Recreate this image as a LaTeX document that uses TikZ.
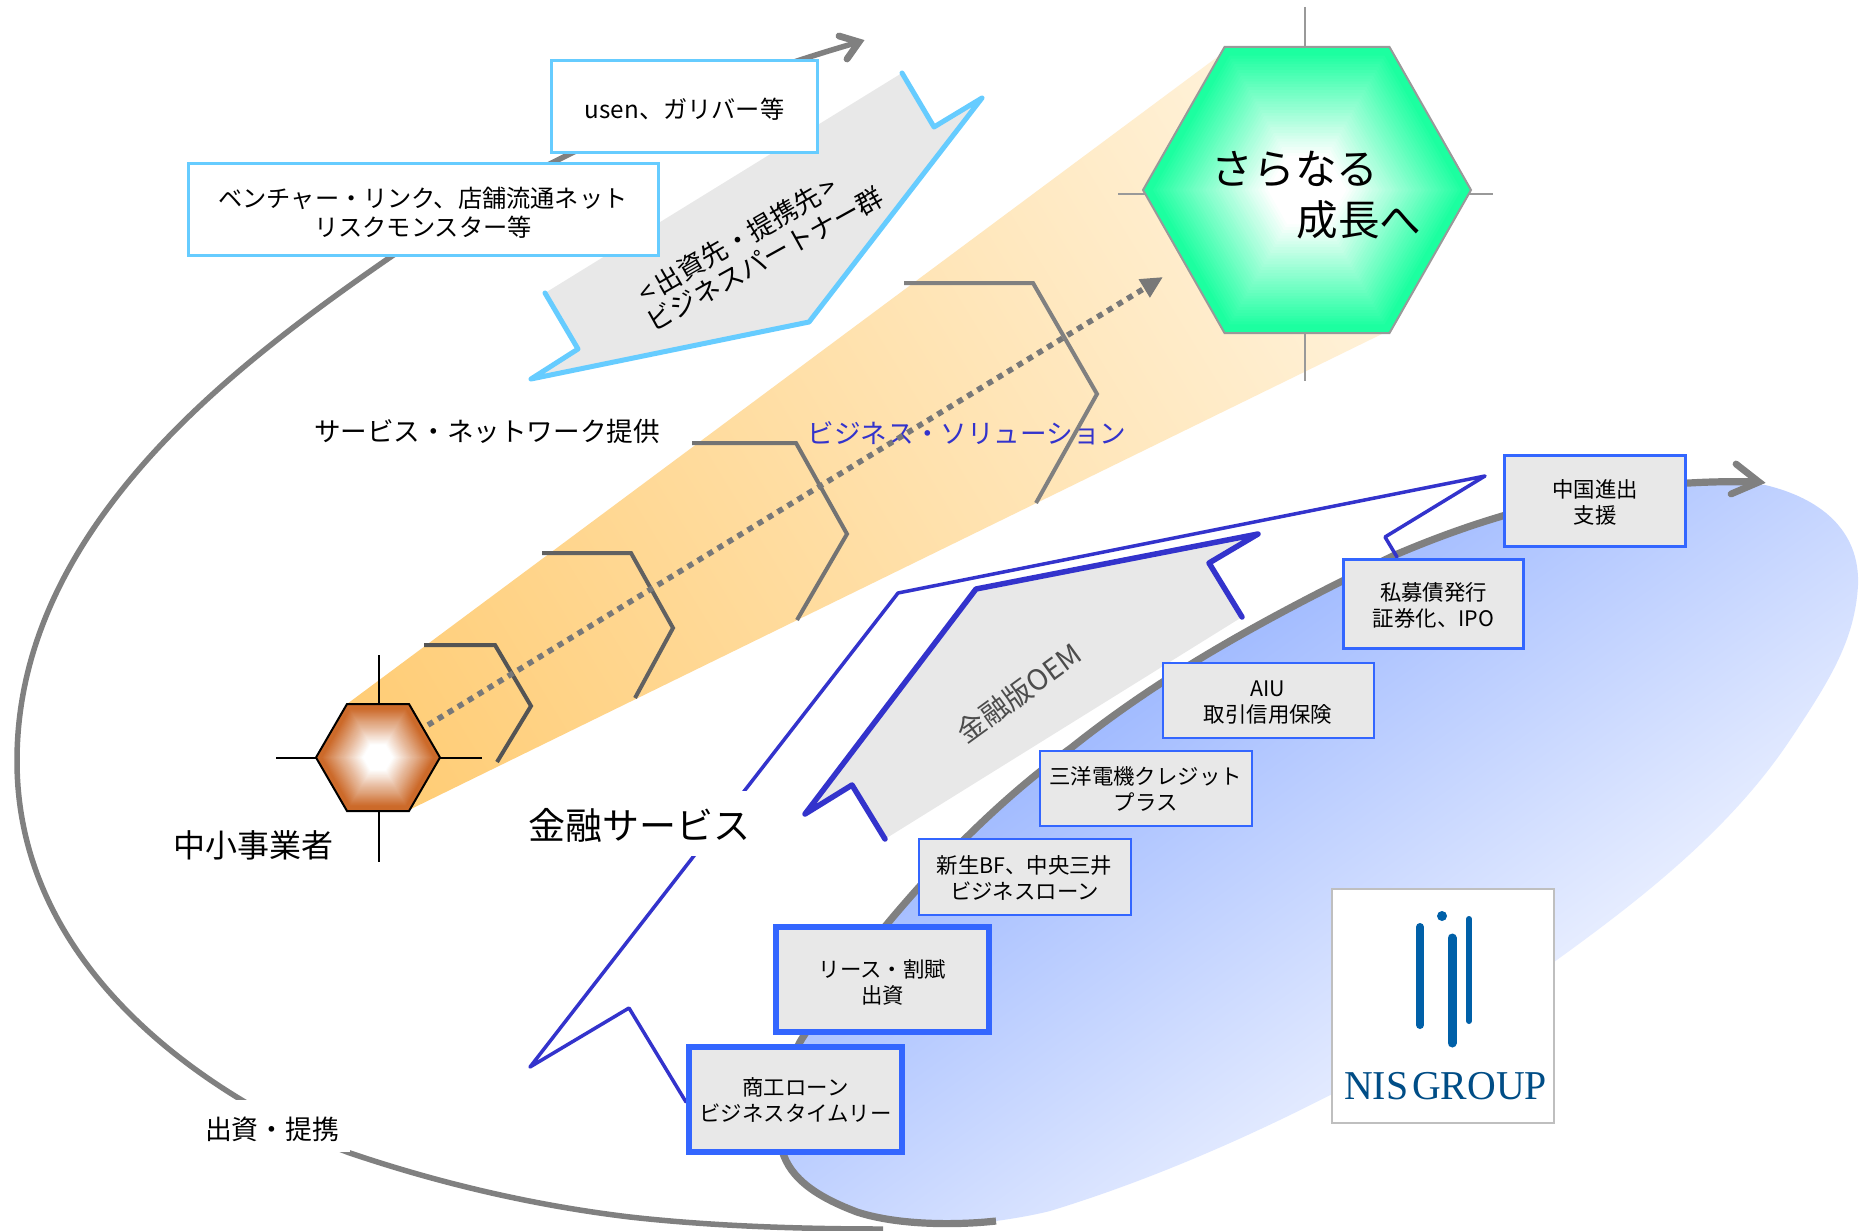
\documentclass[tikz,border=0pt]{standalone}
\usepackage{fontspec}
\setmainfont{Noto Sans CJK JP}
\newfontfamily\logofont{Liberation Serif}
\usetikzlibrary{arrows.meta}
\definecolor{arcgray}{HTML}{808080}
\definecolor{skyline}{HTML}{66CCFF}
\definecolor{indigoline}{HTML}{3333CC}
\definecolor{boxblue}{HTML}{3366FF}
\definecolor{panelgray}{HTML}{E8E8E8}
\definecolor{logoblue}{HTML}{0060A8}
\definecolor{hexgreen}{HTML}{1CFFA0}
\definecolor{hexorange}{HTML}{CC6A2A}
\definecolor{bandstart}{HTML}{FFCC74}
\definecolor{bandend}{HTML}{FFF2DA}
\definecolor{areastart}{HTML}{A0BAFF}
\definecolor{areaend}{HTML}{E8EEFF}
\newcommand{\fs}[2]{\fontsize{#1}{#2}\selectfont}
\newcommand{\lowered}[2][2.2pt]{\raisebox{-#1}[\height][\depth]{\begin{tabular}{@{}c@{}}#2\end{tabular}}}
\newcommand{\hexpath}[3]{(-#1,0) -- (-#2,-#3) -- (#2,-#3) -- (#1,0) -- (#2,#3) -- (-#2,#3) -- cycle}
% nested hexagons: path gradient, #1 cx #2 cy #3 half width #4 half top #5 half height #6 colour #7 core #8 solid
\newcommand{\hexgrad}[8]{%
  \foreach \s in {100,98,...,0}{%
    \pgfmathtruncatemacro{\mixval}{max(0,min(100,(\s-#7)/(#8-#7)*100))}%
    \begin{scope}[shift={(#1,#2)},scale=\s*0.01]
      \fill[#6!\mixval!white] \hexpath{#3}{#4}{#5};
    \end{scope}}}
\tikzset{
  arcline/.style={draw=arcgray,line width=2.75pt,line cap=butt,line join=round},
  headline/.style={draw=arcgray,line width=3.4pt,line cap=round,line join=miter},
  chevron/.style={line width=2pt,line join=miter,line cap=butt},
  lbox/.style={draw=skyline,line width=1.5pt,fill=white,inner sep=0pt,font=\fs{12.1}{14.4}},
  bbox/.style={draw=boxblue,fill=panelgray,inner sep=0pt,font=\fs{10.7}{13}},
  plainlabel/.style={inner sep=0pt,font=\fs{13.3}{16}},
  crossline/.style={line width=1pt},
  pointer/.style={line join=round,line cap=round},
}
\begin{document}
\begin{tikzpicture}[x=0.5pt,y=-0.5pt]
\useasboundingbox (0,0) rectangle (1861,1230);
\fill[white] (0,0) rectangle (1861,1230);

% orange band
\begin{scope}
  \clip (347,704) -- (1220,55) -- (1384,333) -- (411,809) -- cycle;
  \begin{scope}[transform canvas={shift={(842,474)},rotate=31.5}]
    \shade[left color=bandstart,right color=bandend] (-560,-800) rectangle (560,800);
  \end{scope}
\end{scope}

% big arc with arrow
\coordinate (arctip) at (859,42);
\coordinate (arcarm1) at (839,36);
\coordinate (arcarm2) at (847,59);
\draw[arcline] (883,1229) .. controls (800,1229) and (710,1226) .. (630,1217)
  .. controls (530,1205) and (435,1182) .. (347,1152)
  .. controls (238,1110) and (17,985) .. (17,761)
  .. controls (17,670) and (50,590) .. (100,519)
  .. controls (170,420) and (270,340) .. (392,256)
  .. controls (520,170) and (690,90) .. (arctip);
\draw[headline] (arcarm1) -- (arctip) -- (arcarm2);

% blue region
\begin{scope}
  \clip (996,1221) .. controls (960,1225) and (900,1226) .. (857,1212)
   .. controls (820,1198) and (790,1180) .. (782,1150)
   .. controls (775,1115) and (785,1065) .. (803,1037)
   .. controls (850,965) and (950,835) .. (1071,748)
   .. controls (1150,685) and (1240,630) .. (1395,555)
   .. controls (1500,510) and (1620,480) .. (1765,485)
   .. controls (1820,498) and (1860,530) .. (1858,585)
   .. controls (1855,640) and (1830,680) .. (1790,740)
   .. controls (1730,830) and (1640,900) .. (1554,962)
   .. controls (1450,1035) and (1250,1150) .. (1050,1211)
   .. controls (1030,1216) and (1010,1219) .. (996,1221) -- cycle;
  \begin{scope}[transform canvas={shift={(1331,844)},rotate=-54.6}]
    \shade[left color=areastart,right color=areaend] (-240,-1000) rectangle (240,1000);
  \end{scope}
\end{scope}
\coordinate (bluetip) at (1759,482);
\coordinate (bluearm1) at (1736,464);
\coordinate (bluearm2) at (1731,494);
\draw[draw=arcgray,line width=3.6pt] (996,1221) .. controls (960,1225) and (900,1226) .. (857,1212)
   .. controls (820,1198) and (790,1180) .. (782,1150)
   .. controls (775,1115) and (785,1065) .. (803,1037)
   .. controls (850,965) and (950,835) .. (1071,748)
   .. controls (1150,685) and (1240,630) .. (1395,555)
   .. controls (1500,510) and (1620,478) .. (bluetip);
\draw[headline] (bluearm1) -- (bluetip) -- (bluearm2);

% small hexagon
\draw[black,crossline] (379,655) -- (379,862);
\draw[black,crossline] (276,758) -- (482,758);
\hexgrad{378}{757.5}{62}{31}{53.5}{hexorange}{24}{92}
\draw[black,line width=1pt,shift={(378,757.5)}] \hexpath{62}{31}{53.5};

% big hexagon
\draw[black!40,crossline] (1305,7) -- (1305,381);
\draw[black!40,crossline] (1118,194) -- (1493,194);
\hexgrad{1307}{190}{164}{82.5}{143}{hexgreen}{24}{96}
\draw[black!40,line width=1pt,shift={(1307,190)}] \hexpath{164}{82.5}{143};

% labels in band
\node[plainlabel,text=indigoline] (solution) at (967,433) {ビジネス・ソリューション};
\node[plainlabel] (network) at (487,431) {サービス・ネットワーク提供};

% chevrons
\draw[chevron,draw=black!67] (424,645) -- (495,645) -- (531,706) -- (497,762);
\draw[chevron,draw=black!62] (542,553) -- (631,553) -- (673,628) -- (635,698);
\draw[chevron,draw=black!55] (692,443) -- (796,443) -- (847,534) -- (797,620);
\draw[chevron,draw=black!50] (904,283) -- (1033,283) -- (1097,394) -- (1036,503);

% dotted arrow
\draw[draw=black!53,line width=2.8pt,dash pattern=on 3pt off 2.85pt,-{Triangle[length=11pt,width=10pt]}] (428,725) -- (1163,277);

% sky-blue arrow
\fill[panelgray] (902,73) -- (934,127) -- (982,98) -- (809,322) -- (531,379) -- (578,349) -- (545,293) -- cycle;
\draw[draw=skyline,line width=2.5pt,pointer] (902,73) -- (934,127) -- (982,98) -- (809,322) -- (531,379) -- (578,349) -- (545,293);
\node[rotate=30,inner sep=0pt,font=\fs{13.3}{16}] (partners) at (737.5,240) {<\,出資先・提携先\,>};
\node[rotate=29,inner sep=0pt,font=\fs{13.3}{16}] (partnerstwo) at (765,259) {ビジネスパートナー群};

% light boxes
\node[lbox,minimum width=133pt,minimum height=46pt] (usen) at (684.5,106.5) {\lowered[2.8pt]{usen、ガリバー等}};
\node[lbox,minimum width=235pt,minimum height=46pt] (venture) at (423,209.5) {\lowered[3.4pt]{ベンチャー・リンク、店舗流通ネット\\リスクモンスター等}};

% callout outline
\draw[draw=indigoline,line width=1.75pt,pointer] (1397,557) -- (1385,537) -- (1485,476) -- (898,593) -- (530,1067) -- (629,1008) -- (686,1102);
\node[fill=white,inner sep=0pt,minimum width=111pt,minimum height=32.5pt,font=\fs{18.5}{22}] (finance) at (639,823.5) {\lowered[3.4pt]{金融サービス}};

% OEM arrow
\fill[panelgray] (885,839) -- (852,785) -- (805,814) -- (976,589) -- (1258,534) -- (1209,563) -- (1242,617) -- cycle;
\draw[draw=indigoline,line width=2.75pt,pointer] (885,839) -- (852,785) -- (805,814) -- (976,589) -- (1258,534) -- (1209,563) -- (1242,617);
\node[rotate=36,inner sep=0pt,text=black!70,font=\fs{14.2}{17}] (oem) at (1019,693) {金融版OEM};

% blue boxes
\node[bbox,line width=3pt,minimum width=106.5pt,minimum height=52.5pt] (shoko) at (795.5,1099) {\lowered{商工ローン\\ビジネスタイムリー}};
\node[bbox,line width=3pt,minimum width=106.5pt,minimum height=52.5pt] (lease) at (882.5,979.5) {\lowered[2.8pt]{リース・割賦\\出資}};
\node[bbox,line width=1pt,minimum width=106pt,minimum height=38pt] (shinsei) at (1024.5,877) {\lowered{新生BF、中央三井\\ビジネスローン}};
\node[bbox,line width=1pt,minimum width=106pt,minimum height=37.5pt] (sanyo) at (1145.5,788) {\lowered{三洋電機クレジット\\プラス}};
\node[bbox,line width=1pt,minimum width=105.5pt,minimum height=37.5pt] (aiu) at (1268,700) {\lowered{AIU\\取引信用保険}};
\node[bbox,line width=1.5pt,minimum width=90pt,minimum height=44.5pt] (shibo) at (1433.5,603.5) {\lowered{私募債発行\\証券化、IPO}};
\node[bbox,line width=1.5pt,minimum width=90.5pt,minimum height=45.5pt] (china) at (1595,501) {\lowered{中国進出\\支援}};

% logo
\draw[draw=black!25,fill=white,line width=1pt] (1332,889) rectangle (1554,1123);
\draw[logoblue,line width=4pt,line cap=round] (1420,927) -- (1420,1025);
\draw[logoblue,line width=4.5pt,line cap=round] (1452,938) -- (1452,1043);
\draw[logoblue,line width=3pt,line cap=round] (1469,919) -- (1469,1021);
\fill[logoblue] (1442,916) circle (5);
\node[inner sep=0pt,text=logoblue!80!black,font=\logofont\fs{20.5}{24}] (nisgroup) at (1445.5,1086) {\scalebox{.97}[1]{NIS\hspace{2pt}GROUP}};

% side labels
\node[inner sep=0pt,font=\fs{16}{19}] (sme) at (253,845) {中小事業者};
\node[fill=white,inner sep=0pt,minimum width=77.5pt,minimum height=26pt,font=\fs{13.4}{16}] (invest) at (272,1126) {\lowered[3.4pt]{出資・提携}};

% big hexagon text
\node[inner sep=0pt,font=\fs{20.8}{25}] (sara) at (1295,169) {さらなる};
\node[inner sep=0pt,font=\fs{20.8}{25}] (seicho) at (1359,220) {成長へ};
\end{tikzpicture}
\end{document}
